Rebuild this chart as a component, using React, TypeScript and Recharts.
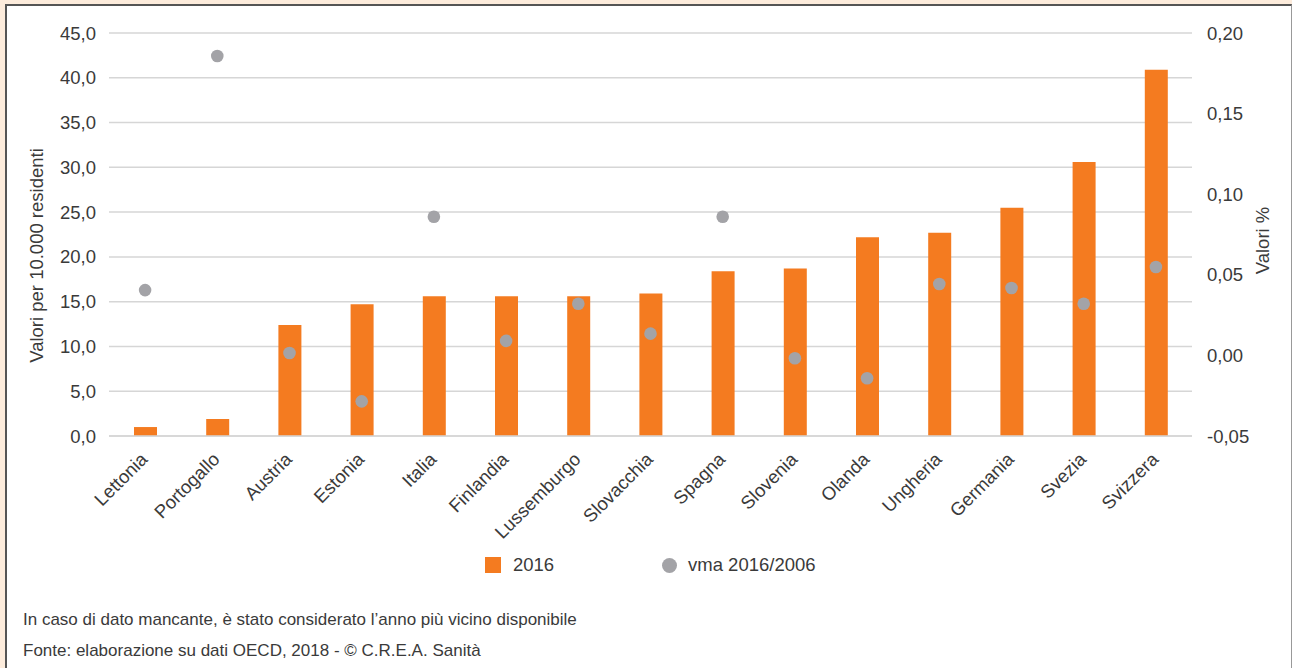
import React from 'react';
import { ComposedChart, Bar, Scatter, XAxis, YAxis, CartesianGrid, Legend } from 'recharts';

const FONT = "'Liberation Sans Narrow', 'Arial Narrow', 'Liberation Sans', sans-serif";
const TEXT = '#3a3a3a';

const countries = [
  'Lettonia', 'Portogallo', 'Austria', 'Estonia', 'Italia', 'Finlandia', 'Lussemburgo',
  'Slovacchia', 'Spagna', 'Slovenia', 'Olanda', 'Ungheria', 'Germania', 'Svezia', 'Svizzera',
];
const values2016 = [1.0, 1.9, 12.4, 14.7, 15.6, 15.6, 15.6, 15.9, 18.4, 18.7, 22.2, 22.7, 25.5, 30.6, 40.9];
const vma20162006 = [0.0405, 0.1857, 0.0015, -0.0285, 0.086, 0.009, 0.032, 0.0135, 0.086, -0.0018, -0.0142, 0.0443, 0.0418, 0.032, 0.0548];
const leftTicks = [0, 5, 10, 15, 20, 25, 30, 35, 40, 45];
const rightTicks = [-0.05, 0, 0.05, 0.1, 0.15, 0.2];

const data = countries.map((country, i) => ({
  country,
  v2016: values2016[i],
  vma: vma20162006[i],
}));

const fmt = (v: number, d: number) => v.toFixed(d).replace('.', ',');

const CountryTick = (props: any) => {
  const { x, y, payload } = props;
  return (
    <g transform={`translate(${x},${y})`}>
      <text x={0} y={0} dy={5} textAnchor="end" transform="rotate(-45)" fill={TEXT} fontSize={18.5} fontFamily={FONT}>
        {payload.value}
      </text>
    </g>
  );
};

const LegendBox = () => (
  <div style={{ position: 'relative', width: 1292, height: 64, fontFamily: FONT, fontSize: 18.5, color: TEXT }}>
    <div style={{ position: 'absolute', left: 485, top: 21, width: 16, height: 16, background: '#F47B20' }} />
    <div style={{ position: 'absolute', left: 513, top: 16, lineHeight: '26px' }}>2016</div>
    <div style={{ position: 'absolute', left: 662, top: 22, width: 15, height: 15, borderRadius: '50%', background: '#A3A3A7' }} />
    <div style={{ position: 'absolute', left: 688, top: 16, lineHeight: '26px' }}>vma 2016/2006</div>
  </div>
);

const App: React.FC = () => {
  return (
    <div style={{ position: 'absolute', left: 0, top: 0, width: 1292, height: 668, background: '#fdecdc', overflow: 'hidden' }}>
      <div
        style={{
          position: 'absolute',
          left: 5,
          top: 4,
          width: 1284,
          height: 700,
          background: '#fff',
          borderLeft: '2px solid #555',
          borderTop: '2px solid #555',
          borderRight: '1px solid #999',
        }}
      />
      <div style={{ position: 'absolute', left: 0, top: 0 }}>
        <ComposedChart width={1292} height={600} data={data} margin={{ top: 33, right: 0, left: 0, bottom: 0 }}>
          <CartesianGrid yAxisId="left" vertical={false} stroke="#d6d6d6" strokeWidth={1.5} />
          <XAxis
            dataKey="country"
            height={100}
            interval={0}
            tickLine={false}
            axisLine={{ stroke: '#d6d6d6', strokeWidth: 1.5 }}
            tickMargin={15}
            tick={<CountryTick />}
          />
          <YAxis
            yAxisId="left"
            width={109}
            domain={[0, 45]}
            ticks={leftTicks}
            tickFormatter={(v) => fmt(v, 1)}
            axisLine={false}
            tickLine={false}
            tickSize={8}
            tickMargin={5}
            tick={{ fill: TEXT, fontSize: 18.5, fontFamily: FONT }}
            label={({ viewBox }: any) => (
              <text
                x={viewBox.x + 36}
                y={viewBox.y + viewBox.height / 2 + 21}
                transform={`rotate(-90, ${viewBox.x + 36}, ${viewBox.y + viewBox.height / 2 + 21})`}
                textAnchor="middle"
                dominantBaseline="central"
                fill={TEXT}
                fontSize={18.5}
                fontFamily={FONT}
              >
                Valori per 10.000 residenti
              </text>
            )}
          />
          <YAxis
            yAxisId="right"
            orientation="right"
            width={100}
            domain={[-0.05, 0.2]}
            ticks={rightTicks}
            tickFormatter={(v) => fmt(v, 2)}
            axisLine={false}
            tickLine={false}
            tickSize={8}
            tickMargin={7}
            tick={{ fill: TEXT, fontSize: 18.5, fontFamily: FONT }}
            label={({ viewBox }: any) => (
              <text
                x={viewBox.x + 70}
                y={viewBox.y + viewBox.height / 2 + 6}
                transform={`rotate(-90, ${viewBox.x + 70}, ${viewBox.y + viewBox.height / 2 + 6})`}
                textAnchor="middle"
                dominantBaseline="central"
                fill={TEXT}
                fontSize={18.5}
                fontFamily={FONT}
              >
                Valori %
              </text>
            )}
          />
          <Legend verticalAlign="bottom" height={64} content={<LegendBox />} wrapperStyle={{ left: 0, width: 1292 }} />
          <Bar yAxisId="left" dataKey="v2016" name="2016" fill="#F47B20" barSize={23} isAnimationActive={false} />
          <Scatter
            yAxisId="right"
            dataKey="vma"
            name="vma 2016/2006"
            fill="#A3A3A7"
            isAnimationActive={false}
            shape={(p: any) => <circle cx={p.cx} cy={p.cy} r={6.3} fill="#A3A3A7" />}
          />
        </ComposedChart>
      </div>
      <div style={{ position: 'absolute', left: 23, top: 604, fontFamily: FONT, fontSize: 17, color: TEXT, lineHeight: '31px' }}>
        <div>In caso di dato mancante, è stato considerato l’anno più vicino disponibile</div>
        <div>Fonte: elaborazione su dati OECD, 2018 - © C.R.E.A. Sanità</div>
      </div>
    </div>
  );
};

export default App;
